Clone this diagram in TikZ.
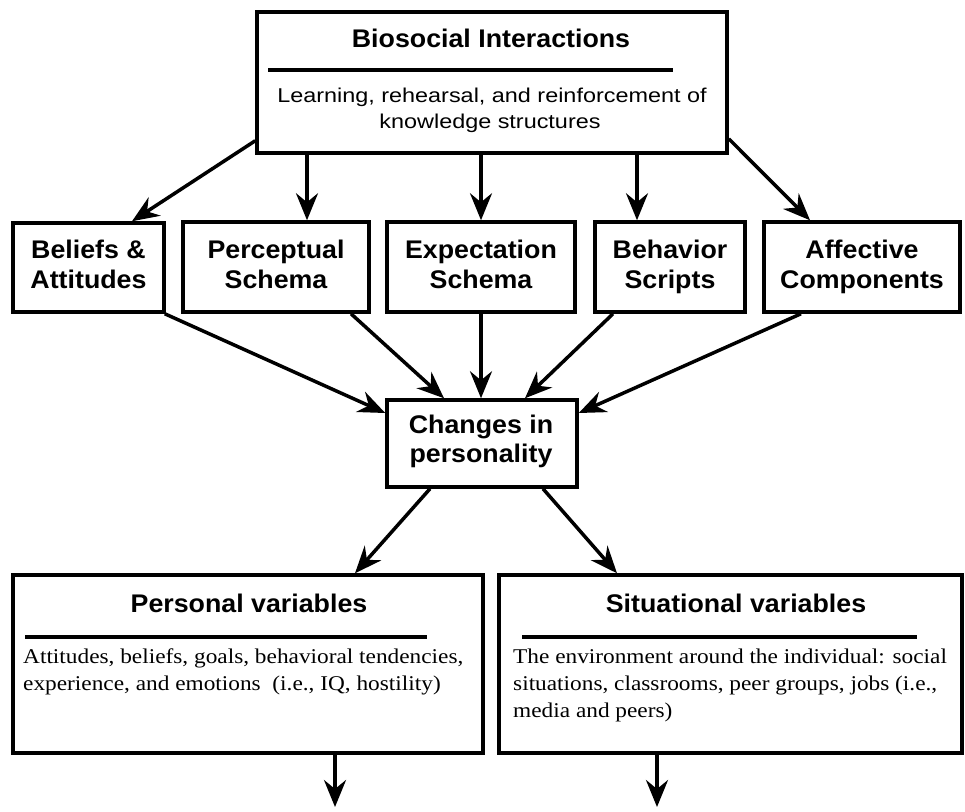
\documentclass[tikz,border=0pt]{standalone}
\usepackage{fontspec}
\usetikzlibrary{arrows.meta,calc}
\newfontfamily\tfont[FakeStretch=1.05]{Liberation Sans}
\newfontfamily\sfont[FakeStretch=1.17]{Liberation Sans}
\newfontfamily\rfont[FakeStretch=1.11]{Liberation Serif}
\begin{document}
\begin{tikzpicture}[x=1pt,y=-1pt,
 box/.style={draw, line width=3.5pt, inner sep=0pt},
 ttl/.style={font=\tfont\bfseries\fontsize{25.5}{30}\selectfont, anchor=base, inner sep=0pt},
 sub/.style={font=\sfont\fontsize{20}{26}\selectfont, anchor=base, inner sep=0pt},
 ser/.style={font=\rfont\fontsize{21}{27}\selectfont, anchor=base west, inner sep=0pt},
 arr/.style={line width=3.5pt, -{Stealth[length=27pt,width=22pt,inset=9pt]}},
 rul/.style={line width=3.5pt}]
\fill[white] (0,0) rectangle (965,811);
\useasboundingbox (0,0) rectangle (965,811);

% top box
\node[box, minimum width=470pt, minimum height=141pt] (top) at (492,82.5) {};
\node[ttl] (topt) at (491,47) {Biosocial Interactions};
\draw[rul] (268,70) -- (673,70);
\node[sub] (tops1) at (492,102) {Learning, rehearsal, and reinforcement of};
\node[sub] (tops2) at (490,128) {knowledge structures};

% row boxes
\node[box, minimum width=151pt, minimum height=89pt] (bel) at (88.5,267.5) {};
\node[box, minimum width=186pt, minimum height=90pt] (per) at (276,267) {};
\node[box, minimum width=188pt, minimum height=90pt] (exp) at (481,267) {};
\node[box, minimum width=150pt, minimum height=90pt] (beh) at (670,267) {};
\node[box, minimum width=196pt, minimum height=90pt] (aff) at (862,267) {};

\node[ttl] (bel1) at (88.5,258) {Beliefs \&};
\node[ttl] (bel2) at (88.5,288) {Attitudes};
\node[ttl] (per1) at (276,258) {Perceptual};
\node[ttl] (per2) at (276,288) {Schema};
\node[ttl] (exp1) at (481,258) {Expectation};
\node[ttl] (exp2) at (481,288) {Schema};
\node[ttl] (beh1) at (670,258) {Behavior};
\node[ttl] (beh2) at (670,288) {Scripts};
\node[ttl] (aff1) at (862,258) {Affective};
\node[ttl] (aff2) at (862,288) {Components};

% changes box
\node[box, minimum width=190pt, minimum height=87pt] (ch) at (482,443.5) {};
\node[ttl] (ch1) at (481,433) {Changes in};
\node[ttl] (ch2) at (481,462) {personality};

% bottom boxes
\node[box, minimum width=470pt, minimum height=178pt] (pers) at (248,664) {};
\node[box, minimum width=463pt, minimum height=178pt] (sit) at (730.5,664) {};
\node[ttl] (perst) at (249,612) {Personal variables};
\node[ttl] (sitt) at (736,612) {Situational variables};
\draw[rul] (25,637) -- (427,637);
\draw[rul] (522,637) -- (917,637);
\node[ser] (pers1) at (23,663) {Attitudes, beliefs, goals, behavioral tendencies,};
\node[ser] (pers2) at (23,690) {experience, and emotions\ \ (i.e., IQ, hostility)};
\node[ser] (sit1) at (513,663) {The environment around the individual: social};
\node[ser] (sit2) at (513,690) {situations, classrooms, peer groups, jobs (i.e.,};
\node[ser] (sit3) at (513,717) {media and peers)};

% connectors top -> row
\draw[arr] ([yshift=14pt]top.south west) -- ([xshift=43.5pt]bel.north);
\draw[arr] ([xshift=31pt]per.north |- top.south) -- ([xshift=31pt]per.north);
\draw[arr] (exp.north |- top.south) -- (exp.north);
\draw[arr] ([xshift=-33pt]beh.north |- top.south) -- ([xshift=-33pt]beh.north);
\draw[arr] ([yshift=16pt]top.south east) -- ([xshift=-52pt]aff.north);

% row -> changes
\draw[arr] ([xshift=-1pt]bel.south east) -- ([yshift=30.5pt]ch.west);
\draw[arr] ([xshift=75pt]per.south) -- ([xshift=-38pt]ch.north);
\draw[arr] (exp.south) -- (exp.south |- ch.north);
\draw[arr] ([xshift=-57pt]beh.south) -- ([xshift=43pt]ch.north);
\draw[arr] ([xshift=-61pt]aff.south) -- ([yshift=30.5pt]ch.east);

% changes -> bottom
\draw[arr] ([xshift=-52pt]ch.south) -- ([xshift=107pt]pers.north);
\draw[arr] ([xshift=61pt]ch.south) -- ([xshift=-113.5pt]sit.north);

% bottom free arrows
\coordinate (pe) at (335,807);
\coordinate (se) at (657,807);
\draw[arr] (pers.south -| pe) -- (pe);
\draw[arr] (sit.south -| se) -- (se);
\end{tikzpicture}
\end{document}
